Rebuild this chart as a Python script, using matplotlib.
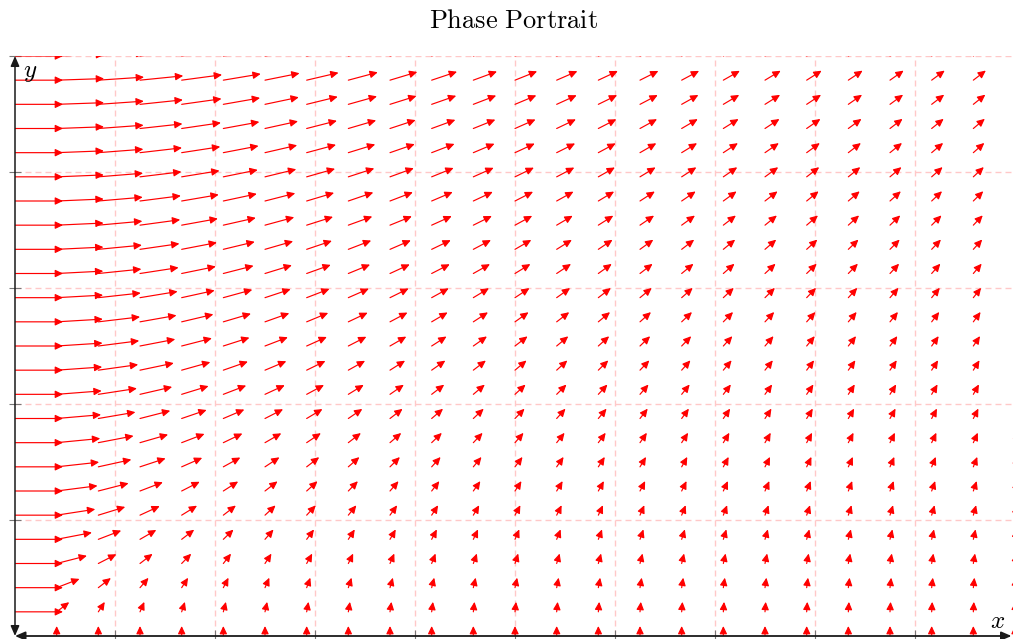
import numpy as np
import matplotlib
matplotlib.use("Agg")
import matplotlib.pyplot as plt
from matplotlib.patches import FancyArrowPatch, ArrowStyle

plt.rcParams['mathtext.fontset'] = 'cm'
plt.rcParams['font.family'] = ['DejaVu Serif']

# ---- data: sample grid of the phase portrait ----
x_samples = np.linspace(0, 10, 25)
y_samples = np.linspace(0, 5, 25)
slope_factor = 1.85          # direction: dy/dx proportional to x / y
u_scale = 0.48               # arrow length along x (data units)
v_scale = 0.086              # arrow length along y (data units)
title_text = "Phase Portrait"
x_label = "x"
y_label = "y"
x_ticks = [1, 2, 3, 4, 5, 6, 7, 8, 9]
y_ticks = [1, 2, 3, 4, 5]

W, H = 1013, 639
fig = plt.figure(figsize=(W / 100, H / 100), dpi=100)
ax = fig.add_axes([15 / W, 3 / H, 998 / W, 580 / H])
ax.set_xlim(0, 9.98)
ax.set_ylim(0, 5)

for s in ax.spines.values():
    s.set_visible(False)
ax.set_xticks(x_ticks)
ax.set_yticks(y_ticks)
ax.tick_params(direction='inout', length=9, width=0.8, color='#777777',
               labelleft=False, labelbottom=False)
ax.grid(True, color='#ffc8c8', linewidth=1.0, linestyle=(0, (4.3, 2.9)), zorder=0)
ax.set_axisbelow(True)

style = ArrowStyle('-|>', head_length=4.6, head_width=2.2)
for xv in x_samples:
    for yv in y_samples:
        U = yv
        V = slope_factor * xv
        n = np.hypot(U, V)
        if n == 0:
            continue
        u = u_scale * U / n
        v = v_scale * V / n
        p = FancyArrowPatch(posA=(xv, yv), posB=(xv + u, yv + v), arrowstyle=style,
                            mutation_scale=1, color='red', lw=0.85,
                            shrinkA=0, shrinkB=0, zorder=2)
        ax.add_patch(p)

# axis lines with arrows at both ends
axstyle = ArrowStyle('<|-|>', head_length=6, head_width=2.6)
ax.add_patch(FancyArrowPatch(posA=(0, 0), posB=(0.9985, 0), transform=ax.transAxes,
                             arrowstyle=axstyle, mutation_scale=1, color='#1a1a1a',
                             lw=1.3, shrinkA=0, shrinkB=0, clip_on=False, zorder=5))
ax.add_patch(FancyArrowPatch(posA=(0, 0), posB=(0, 1), transform=ax.transAxes,
                             arrowstyle=axstyle, mutation_scale=1, color='#1a1a1a',
                             lw=1.1, shrinkA=0, shrinkB=0, clip_on=False, zorder=5))

ax.text((30 - 15) / 998, (636 - 73) / 580, f"${y_label}$", transform=ax.transAxes,
        ha='center', va='center', fontsize=18)
ax.text((998 - 15) / 998, (636 - 621) / 580, f"${x_label}$", transform=ax.transAxes,
        ha='center', va='center', fontsize=18)

fig.text(514 / W, 1 - 21 / H, r"$\mathrm{" + title_text.replace(" ", r"\ ") + "}$",
         ha='center', va='center', fontsize=19)

fig.savefig("out.png", dpi=100)
